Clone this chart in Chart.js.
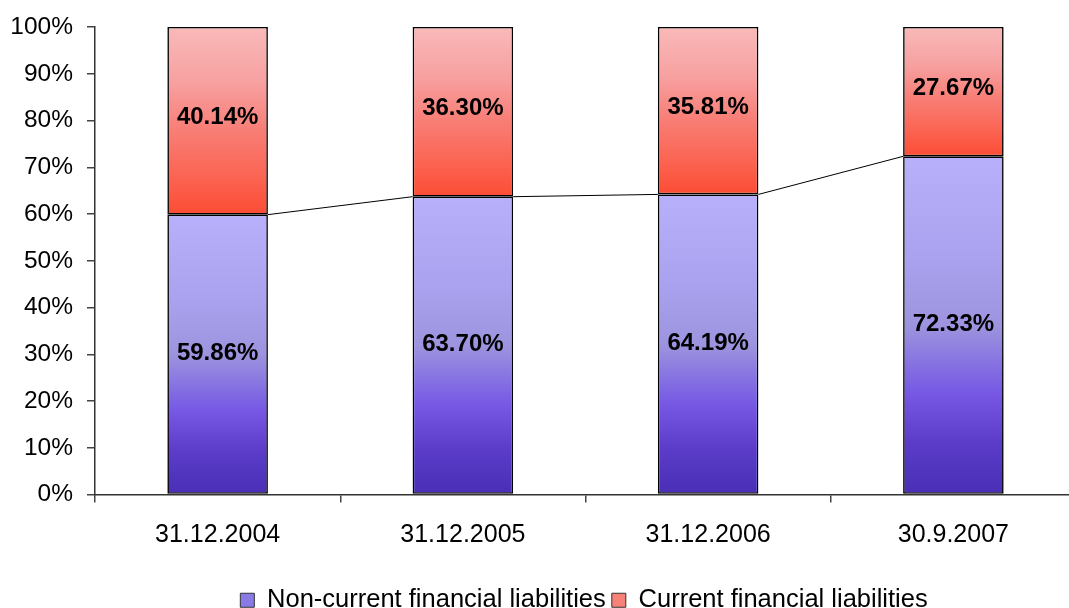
<!DOCTYPE html>
<html>
<head>
<meta charset="utf-8">
<script src="https://cdn.jsdelivr.net/npm/chart.js@4.4.1/dist/chart.umd.min.js"></script>
<style>
html,body{margin:0;padding:0;background:#fff;overflow:hidden;}
#wrap{width:1069px;height:608px;overflow:hidden;position:relative;}
canvas{display:block;}
</style>
</head>
<body>
<div id="wrap"><canvas id="c" width="1076" height="608"></canvas></div>
<script>
const categories = ['31.12.2004', '31.12.2005', '31.12.2006', '30.9.2007'];
const nonCurrent = [59.86, 63.70, 64.19, 72.33];
const current = [40.14, 36.30, 35.81, 27.67];
const seriesNames = ['Non-current financial liabilities', 'Current financial liabilities'];
const yTicks = [0, 10, 20, 30, 40, 50, 60, 70, 80, 90, 100];

const FONT = "'Liberation Sans', Arial, sans-serif";

const blueStops = [[0, '#b8b0fa'], [0.3, '#aaa2ee'], [0.5, '#9c94de'], [0.7, '#7658e4'], [0.85, '#5a3cc8'], [1, '#4a2eb6']];
const redStops = [[0, '#f9b9b9'], [0.3, '#f7a0a0'], [0.55, '#f87e76'], [0.8, '#fb6452'], [1, '#fc4c34']];

function grad(ctx, chart, fromVal, toVal, stops, fallback) {
  const y = chart.scales && chart.scales.y;
  if (!y || !chart.chartArea) return fallback;
  const top = y.getPixelForValue(toVal);
  const bot = y.getPixelForValue(fromVal);
  if (!isFinite(top) || !isFinite(bot) || top === bot) return fallback;
  const g = ctx.createLinearGradient(0, top, 0, bot);
  stops.forEach(s => g.addColorStop(s[0], s[1]));
  return g;
}

const legendShift = {
  id: 'legendShift',
  afterLayout(chart) {
    const lg = chart.legend;
    if (!lg) return;
    const dy = 15, dx = 46;
    lg.top += dy; lg.bottom += dy;
    lg.left += dx; lg.right += dx;
  }
};

const seriesLines = {
  id: 'seriesLines',
  afterDatasetsDraw(chart) {
    const meta = chart.getDatasetMeta(0);
    const ctx = chart.ctx;
    ctx.save();
    ctx.strokeStyle = '#000';
    ctx.lineWidth = 1;
    for (let i = 0; i < meta.data.length - 1; i++) {
      const a = meta.data[i], b = meta.data[i + 1];
      ctx.beginPath();
      ctx.moveTo(a.x + a.width / 2, a.y);
      ctx.lineTo(b.x - b.width / 2, b.y);
      ctx.stroke();
    }
    ctx.restore();
  }
};

const valueLabels = {
  id: 'valueLabels',
  afterDatasetsDraw(chart) {
    const ctx = chart.ctx;
    ctx.save();
    ctx.font = 'bold 24px ' + FONT;
    ctx.fillStyle = '#000';
    ctx.textAlign = 'center';
    ctx.textBaseline = 'middle';
    const shifts = [-1, -3];
    chart.data.datasets.forEach((ds, di) => {
      const meta = chart.getDatasetMeta(di);
      meta.data.forEach((el, i) => {
        ctx.fillText(ds.data[i].toFixed(2) + '%', el.x, (el.y + el.base) / 2 + shifts[di]);
      });
    });
    ctx.restore();
  }
};

new Chart(document.getElementById('c'), {
  type: 'bar',
  data: {
    labels: categories,
    datasets: [
      {
        label: seriesNames[0],
        data: nonCurrent,
        backgroundColor: (c) => grad(c.chart.ctx, c.chart, 0, nonCurrent[c.dataIndex] || 0, blueStops, '#8a7ae6'),
        borderColor: '#000',
        borderWidth: 1.6,
        borderSkipped: false,
        barPercentage: 0.82,
        categoryPercentage: 0.5
      },
      {
        label: seriesNames[1],
        data: current,
        backgroundColor: (c) => grad(c.chart.ctx, c.chart, nonCurrent[c.dataIndex] || 0, 100, redStops, '#f87e76'),
        borderColor: '#000',
        borderWidth: 1.6,
        borderSkipped: false,
        barPercentage: 0.82,
        categoryPercentage: 0.5
      }
    ]
  },
  options: {
    responsive: false,
    animation: false,
    devicePixelRatio: 1,
    layout: { padding: { left: 0, right: 0, top: 27, bottom: 0 } },
    scales: {
      x: {
        stacked: true,
        grid: { display: true, drawOnChartArea: false, offset: true, color: '#444', tickLength: 8, tickColor: '#444', lineWidth: 1.5 },
        border: { display: true, color: '#333', width: 1.5 },
        ticks: { color: '#000', font: { family: FONT, size: 25 }, padding: 18 },
        afterFit(scale) { scale.height = 72; }
      },
      y: {
        stacked: true,
        min: 0,
        max: 100,
        afterBuildTicks(scale) { scale.ticks = yTicks.map(v => ({ value: v })); },
        grid: { display: true, drawOnChartArea: false, color: '#444', tickLength: 8, tickColor: '#444', lineWidth: 1.5 },
        border: { display: true, color: '#333', width: 1.5 },
        ticks: { color: '#000', font: { family: FONT, size: 24.5, lineHeight: 1 }, padding: 14, callback: v => v + '%' },
        afterFit(scale) { scale.width = 95; scale.paddingTop = 0; scale.paddingBottom = 0; }
      }
    },
    plugins: {
      legend: {
        position: 'bottom',
        labels: {
          color: '#000',
          font: { family: FONT, size: 25.5 },
          boxWidth: 14,
          boxHeight: 14,
          padding: 6,
          generateLabels(chart) {
            const fills = ['#8a7ae6', '#f88278'];
            return chart.data.datasets.map((ds, i) => ({
              text: ds.label,
              fillStyle: fills[i],
              strokeStyle: '#333',
              lineWidth: 1,
              fontColor: '#000',
              datasetIndex: i,
              hidden: false
            }));
          }
        }
      },
      tooltip: { enabled: false }
    }
  },
  plugins: [legendShift, seriesLines, valueLabels]
});
</script>
</body>
</html>
